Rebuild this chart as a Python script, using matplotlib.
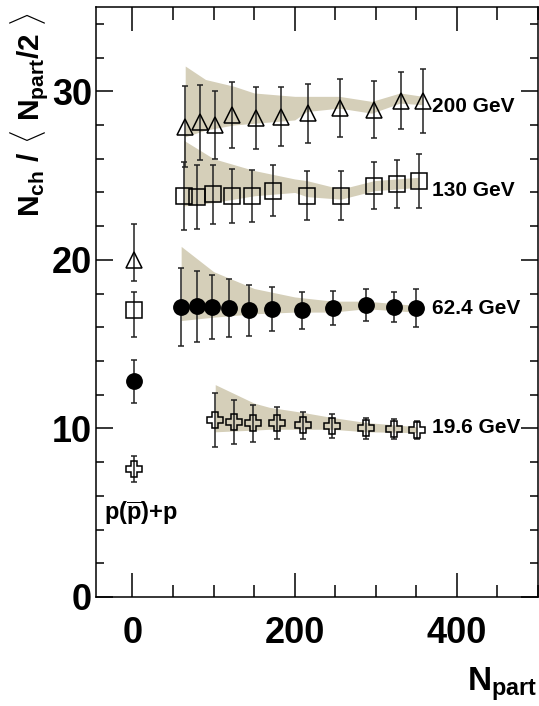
import matplotlib
matplotlib.use("Agg")
import matplotlib.pyplot as plt
from matplotlib.ticker import MultipleLocator

plt.rcParams['font.family'] = ['Liberation Sans', 'DejaVu Sans']
plt.rcParams['font.weight'] = 'bold'
plt.rcParams['mathtext.fontset'] = 'custom'
plt.rcParams['mathtext.rm'] = 'Liberation Sans:bold'
plt.rcParams['mathtext.bf'] = 'Liberation Sans:bold'
plt.rcParams['mathtext.it'] = 'Liberation Sans:bold'

# Au+Au points
npart_200 = [65, 83, 102, 123, 152, 183, 216, 256, 298, 331, 358]
nch_200 = [27.9, 28.15, 28.0, 28.6, 28.4, 28.5, 28.7, 29.0, 28.9, 29.45, 29.4]
err_200 = [2.4, 2.2, 2.0, 1.95, 1.85, 1.75, 1.75, 1.7, 1.7, 1.7, 1.9]

npart_130 = [63, 79, 99, 123, 147, 173, 215, 257, 298, 326, 353]
nch_130 = [23.8, 23.75, 23.9, 23.8, 23.8, 24.1, 23.8, 23.8, 24.4, 24.5, 24.7]
err_130 = [2.0, 1.9, 1.75, 1.6, 1.55, 1.5, 1.45, 1.45, 1.4, 1.45, 1.6]

npart_62 = [60, 79, 98, 119, 144, 172, 209, 247, 288, 323, 349]
nch_62 = [17.2, 17.25, 17.2, 17.15, 17.0, 17.1, 17.0, 17.15, 17.3, 17.2, 17.15]
err_62 = [2.3, 2.1, 1.9, 1.7, 1.5, 1.3, 1.1, 1.0, 0.95, 0.9, 1.15]

npart_19 = [102, 125, 149, 178, 210, 246, 288, 322, 351]
nch_19 = [10.5, 10.4, 10.3, 10.3, 10.2, 10.15, 10.0, 9.95, 9.9]
err_19 = [1.6, 1.3, 1.1, 0.95, 0.8, 0.7, 0.6, 0.6, 0.55]

# systematic bands (Npart, low, high)
band_x_200 = [65, 90, 125, 150, 200, 215, 255, 295, 330, 358]
band_lo_200 = [27.3, 27.7, 28.0, 28.1, 28.3, 28.8, 29.0, 28.7, 29.3, 29.2]
band_hi_200 = [31.5, 30.7, 30.3, 29.9, 29.7, 29.7, 29.7, 29.4, 29.9, 29.7]

band_x_130 = [63, 100, 150, 200, 215, 257, 298, 353]
band_lo_130 = [23.2, 23.4, 23.8, 24.0, 23.75, 23.6, 24.1, 24.3]
band_hi_130 = [27.1, 26.0, 25.3, 24.8, 24.7, 24.2, 24.7, 24.9]

band_x_62 = [60, 100, 150, 200, 247, 288, 349]
band_lo_62 = [16.4, 16.6, 16.8, 16.9, 16.9, 17.1, 16.9]
band_hi_62 = [20.8, 19.3, 18.3, 17.8, 17.55, 17.55, 17.3]

band_x_19 = [102, 150, 169, 210, 246, 288, 351]
band_lo_19 = [9.8, 9.9, 9.95, 9.95, 9.95, 9.8, 9.75]
band_hi_19 = [12.6, 11.5, 11.25, 10.95, 10.65, 10.35, 10.1]

# p(pbar)+p reference points
pp_x = 2
pp_y = [20.0, 17.05, 12.8, 7.6]
pp_lo = [1.25, 1.65, 1.3, 0.75]
pp_hi = [2.1, 1.05, 1.25, 0.75]

energies = ["200 GeV", "130 GeV", "62.4 GeV", "19.6 GeV"]
label_y = [29.1, 24.1, 17.1, 10.05]

band_color = "#d5cfb9"

fig = plt.figure(figsize=(5.39, 7.06), dpi=100)
ax = fig.add_axes([96 / 539, 109 / 706, 442 / 539, 590 / 706])

bands = [(band_x_200, band_lo_200, band_hi_200), (band_x_130, band_lo_130, band_hi_130),
         (band_x_62, band_lo_62, band_hi_62), (band_x_19, band_lo_19, band_hi_19)]
for bx, blo, bhi in bands:
    ax.fill_between(bx, blo, bhi, color=band_color, lw=0, zorder=1)

series = [(npart_200, nch_200, err_200, '^', 'none'),
          (npart_130, nch_130, err_130, 's', 'none'),
          (npart_62, nch_62, err_62, 'o', 'full'),
          (npart_19, nch_19, err_19, 'P', 'none')]

for i, (x, y, e, m, fs) in enumerate(series):
    ax.errorbar(x, y, yerr=e, fmt='none', ecolor='#222222', elinewidth=1.1,
                capsize=2, capthick=1.1, zorder=2)
    ax.plot(x, y, ls='none', marker=m, fillstyle=fs, markersize=11,
            markeredgewidth=1.1, color='black', zorder=3)
    # p+p point for same energy
    ax.errorbar([pp_x], [pp_y[i]], yerr=[[pp_lo[i]], [pp_hi[i]]], fmt='none',
                ecolor='#222222', elinewidth=1.1, capsize=2, capthick=1.1, zorder=2)
    ax.plot([pp_x], [pp_y[i]], ls='none', marker=m, fillstyle=fs, markersize=11,
            markeredgewidth=1.1, color='black', zorder=3)
    ax.text(369, label_y[i], energies[i], fontsize=15, fontweight='bold',
            ha='left', va='center')

ax.text(-35, 5.0, r'p($\mathbf{\overline{p}}$)+p', fontsize=17, fontweight='bold',
        ha='left', va='center')

ax.set_xlim(-45, 500)
ax.set_ylim(0, 35)
ax.xaxis.set_major_locator(MultipleLocator(200))
ax.xaxis.set_minor_locator(MultipleLocator(50))
ax.yaxis.set_major_locator(MultipleLocator(10))
ax.yaxis.set_minor_locator(MultipleLocator(2))
ax.tick_params(axis='both', which='both', direction='in', top=True, right=True,
               width=1.1, labelsize=26)
ax.tick_params(axis='x', which='major', length=17, pad=14)
ax.tick_params(axis='x', which='minor', length=9)
ax.tick_params(axis='y', which='major', length=12, pad=3)
ax.tick_params(axis='y', which='minor', length=6)
for lab in ax.get_xticklabels() + ax.get_yticklabels():
    lab.set_fontweight('bold')
for sp in ax.spines.values():
    sp.set_linewidth(1.1)

fig.text(30 / 539, 1 - 114 / 706, r'$\mathbf{N_{ch}\ /\ \langle\ N_{part}/2\ \rangle}$',
         rotation=90, fontsize=21.5, ha='center', va='center')
fig.text(537 / 539, 1 - 684 / 706, r'$\mathbf{N_{part}}$', fontsize=24,
         ha='right', va='center')

fig.savefig("out.png", dpi=100)
